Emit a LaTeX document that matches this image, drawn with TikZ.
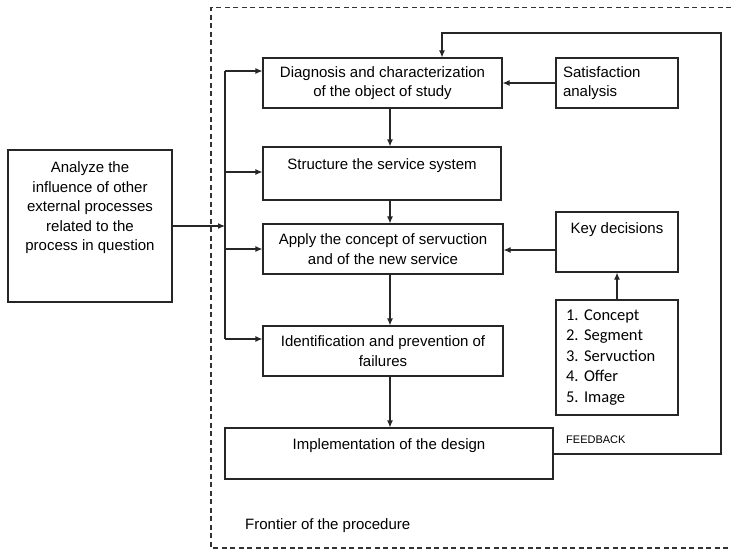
\documentclass[tikz,border=0pt]{standalone}
\usepackage{fontspec}
\setmainfont{Liberation Sans}
\newfontfamily\calib{Carlito}
\usetikzlibrary{arrows.meta}
\frenchspacing
\begin{document}
\begin{tikzpicture}[x=1pt,y=-1pt,
  box/.style={draw=black!85, line width=1.1pt, inner sep=0pt, align=center, font=\fontsize{15}{19.5}\selectfont},
  arr/.style={draw=black!85, line width=1.1pt, -{Latex[length=7pt,width=6pt]}},
  ln/.style={draw=black!85, line width=1.1pt},
  frontier/.style={draw=black!80, line width=1.1pt, dash pattern=on 5pt off 3.5pt}]
\useasboundingbox (0,0) rectangle (731,549);
\draw[frontier] (731,7.5) -- (211,7.5) -- (211,548) -- (731,548);

\node[box, minimum width=239pt, minimum height=50pt] (diag) at (382.5,83) {Diagnosis and characterization\\of the object of study};
\node[box, minimum width=122pt, minimum height=50pt, align=left, text width=108pt] (sat) at (617,83) {Satisfaction\\analysis};
\node[box, minimum width=238pt, minimum height=53pt] (struct) at (382,173.5) {Structure the service system\\\mbox{}};
\node[box, minimum width=240pt, minimum height=50pt] (apply) at (383,249) {Apply the concept of servuction\\and of the new service};
\node[box, minimum width=122pt, minimum height=60pt] (key) at (617,242) {Key decisions\\[9pt]\mbox{}};
\node[box, minimum width=122pt, minimum height=115pt, align=left, text width=102pt, font=\calib\fontsize{16.5}{20.5}\selectfont\frenchspacing] (list) at (617,357.5) {1. Concept\\2. Segment\\3. Servuction\\4. Offer\\5. Image};
\node[box, minimum width=240pt, minimum height=50pt] (ident) at (383,351) {Identification and prevention of\\failures};
\node[box, minimum width=328pt, minimum height=51pt] (impl) at (389,453.5) {Implementation of the design\\\mbox{}};
\node[box, minimum width=164pt, minimum height=152pt] (ext) at (90,226) {Analyze the\\influence of other\\external processes\\related to the\\process in question\\\mbox{}\\\mbox{}};

\node[font=\fontsize{11}{13}\selectfont, anchor=base west, inner sep=0pt] (fb) at (566,443) {FEEDBACK};
\node[font=\fontsize{15}{19}\selectfont, anchor=base west, inner sep=0pt] (fr) at (245,529) {Frontier of the procedure};

\coordinate (vx) at (390,0);
\coordinate (busT) at (225,71);
\coordinate (b2) at (225,172);
\coordinate (b3) at (225,249);
\coordinate (busB) at (225,339);
\coordinate (fbR) at (721,454);
\coordinate (fbT) at (721,33);
\coordinate (fbL) at (442,33);
\coordinate (ka) at (617,250);

\draw[ln] (busT) -- (busB);
\draw[arr] (busT) -- (busT -| diag.west);
\draw[arr] (b2) -- (b2 -| struct.west);
\draw[arr] (b3) -- (b3 -| apply.west);
\draw[arr] (busB) -- (busB -| ident.west);
\draw[arr] (ext.east) -- (ext.east -| busT);

\draw[arr] (vx |- diag.south) -- (vx |- struct.north);
\draw[arr] (vx |- struct.south) -- (vx |- apply.north);
\draw[arr] (vx |- apply.south) -- (vx |- ident.north);
\draw[arr] (vx |- ident.south) -- (vx |- impl.north);

\draw[arr] (sat.west) -- (diag.east);
\draw[arr] (ka -| key.west) -- (ka -| apply.east);
\draw[arr] (list.north) -- (key.south);
\draw[arr] (impl.east |- fbR) -- (fbR) -- (fbT) -- (fbL) -- (fbL |- diag.north);
\end{tikzpicture}
\end{document}
